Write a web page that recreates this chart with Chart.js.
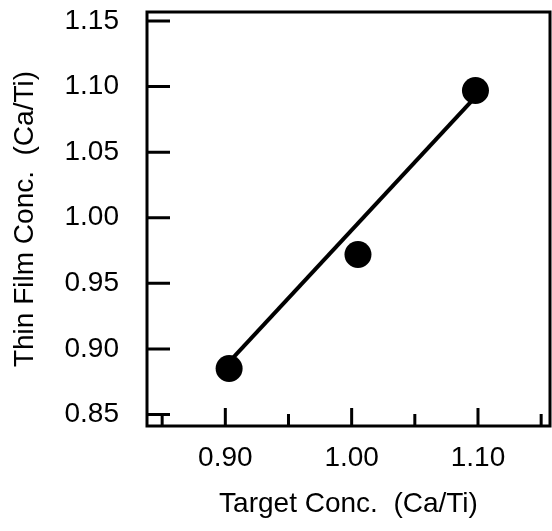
<!DOCTYPE html>
<html>
<head>
<meta charset="utf-8">
<script src="https://cdn.jsdelivr.net/npm/chart.js@4"></script>
<style>
  html, body { margin: 0; padding: 0; background: #fff; overflow: hidden; }
  #wrap { width: 552px; height: 531px; position: relative; }
</style>
</head>
<body>
<div id="wrap"><canvas id="concChart"></canvas></div>
<script>
// values
const targetConc = [0.903, 1.005, 1.098];
const filmConc = [0.885, 0.972, 1.097];
const fitX = [0.904, 1.096];
const fitY = [0.891, 1.090];
const yTicks = [0.85, 0.90, 0.95, 1.00, 1.05, 1.10, 1.15];
const xMajorTicks = [0.90, 1.00, 1.10];
const xMinorTicks = [0.85, 0.95, 1.05, 1.15];
const xTitle = 'Target Conc.  (Ca/Ti)';
const yTitle = 'Thin Film Conc.  (Ca/Ti)';

const FONT = { family: "'Liberation Sans', Arial, Helvetica, sans-serif", size: 28 };
const INK = '#000';

// box around the plot plus inward tick marks
const frameTicks = {
  id: 'frameTicks',
  afterDatasetsDraw(chart) {
    const { ctx, chartArea: a, scales: { x, y } } = chart;
    ctx.save();
    ctx.strokeStyle = INK;
    ctx.lineWidth = 3;
    ctx.strokeRect(a.left, a.top, a.right - a.left, a.bottom - a.top);
    ctx.beginPath();
    yTicks.forEach(function (v) {
      const py = y.getPixelForValue(v);
      ctx.moveTo(a.left, py);
      ctx.lineTo(a.left + 23, py);
    });
    xMajorTicks.forEach(function (v) {
      const px = x.getPixelForValue(v);
      ctx.moveTo(px, a.bottom);
      ctx.lineTo(px, a.bottom - 18);
    });
    xMinorTicks.forEach(function (v) {
      const px = x.getPixelForValue(v);
      ctx.moveTo(px, a.bottom);
      ctx.lineTo(px, a.bottom - 12);
    });
    ctx.stroke();
    ctx.restore();
  }
};

new Chart(document.getElementById('concChart'), {
  type: 'scatter',
  data: {
    datasets: [
      {
        label: 'Measured',
        data: targetConc.map((x, i) => ({ x: x, y: filmConc[i] })),
        pointRadius: 13.5,
        pointHoverRadius: 13.5,
        backgroundColor: INK,
        borderWidth: 0,
        order: 0
      },
      {
        type: 'line',
        label: 'Fit',
        data: fitX.map((x, i) => ({ x: x, y: fitY[i] })),
        borderColor: INK,
        borderWidth: 4,
        pointRadius: 0,
        fill: false,
        order: 1
      }
    ]
  },
  options: {
    responsive: true,
    maintainAspectRatio: false,
    animation: false,
    layout: { autoPadding: false, padding: { top: 12, right: 2, left: 0, bottom: 0 } },
    scales: {
      x: {
        type: 'linear',
        min: 0.838,
        max: 1.157,
        grid: { display: false, drawTicks: false },
        border: { display: false },
        afterBuildTicks: s => { s.ticks = xMajorTicks.map(v => ({ value: v })); },
        afterFit: s => {
          s.height = 105;
          s.paddingLeft = 0;   // don't let label overhang shrink the plot
          s.paddingRight = 0;
        },
        ticks: {
          font: FONT,
          color: INK,
          padding: 15,
          maxRotation: 0,
          autoSkip: false,
          callback: v => Number(v).toFixed(2)
        },
        title: {
          display: true,
          text: xTitle,
          font: FONT,
          color: INK,
          padding: { top: 0, bottom: 10 }
        }
      },
      y: {
        type: 'linear',
        min: 0.8412,
        max: 1.1569,
        grid: { display: false, drawTicks: false },
        border: { display: false },
        afterBuildTicks: s => { s.ticks = yTicks.map(v => ({ value: v })); },
        afterFit: s => {
          s.width = 147;
          s.paddingTop = 0;
          s.paddingBottom = 0;
        },
        ticks: {
          font: FONT,
          color: INK,
          padding: 28,
          autoSkip: false,
          callback: v => Number(v).toFixed(2)
        },
        title: {
          display: true,
          text: yTitle,
          font: FONT,
          color: INK,
          padding: { top: 8, bottom: 0 }
        }
      }
    },
    plugins: {
      legend: { display: false },
      tooltip: { enabled: false }
    }
  },
  plugins: [frameTicks]
});
</script>
</body>
</html>
